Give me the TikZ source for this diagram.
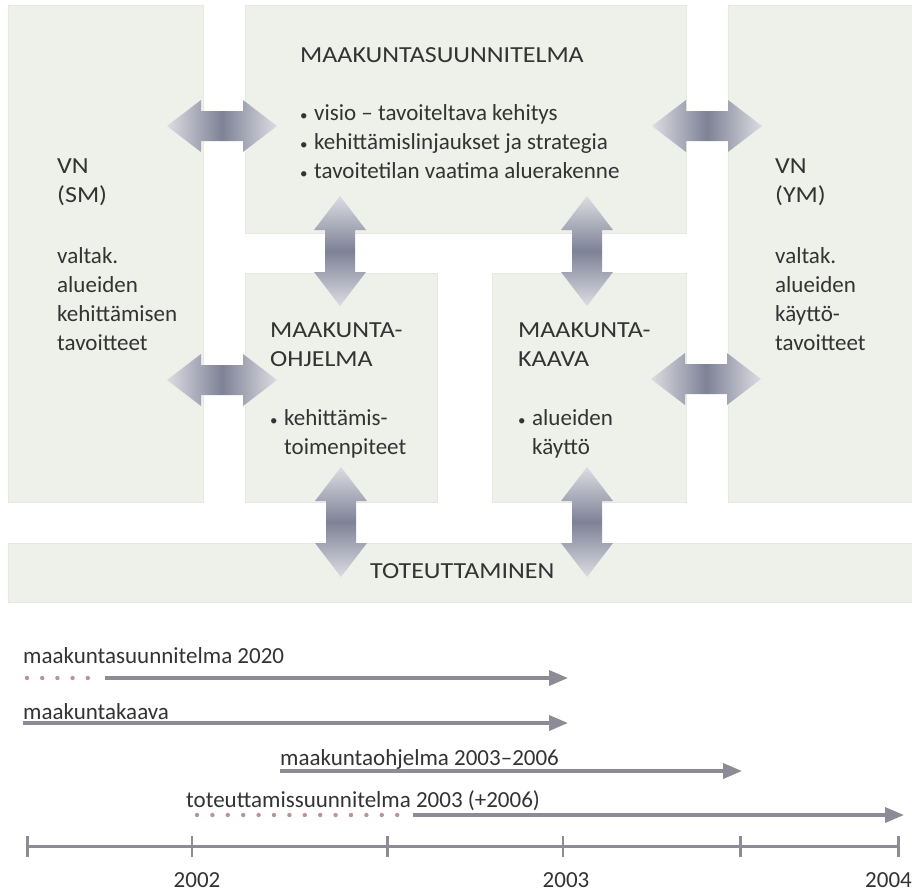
\documentclass[tikz,border=0pt]{standalone}
\usepackage{fontspec}
\setmainfont{Carlito}
\newfontfamily\capsf[FakeStretch=1.13]{Carlito}
\usetikzlibrary{arrows.meta}
\newcommand\mybul{\makebox[14pt][l]{\fontsize{15}{15}\selectfont •}}
\definecolor{boxbg}{HTML}{EEF0EA}
\definecolor{boxedge}{HTML}{E6E8E1}
\definecolor{txt}{HTML}{333333}
\definecolor{arlight}{HTML}{DCDCE2}
\definecolor{ardark}{HTML}{7E8296}
\definecolor{tlc}{HTML}{8F8B96}
\definecolor{dotc}{HTML}{B8988E}
\tikzset{
  box/.style={fill=boxbg, draw=boxedge, line width=0.8pt},
  lbl/.style={anchor=base west, inner sep=0pt, text=txt, font=\fontsize{23}{29}\selectfont},
  caplbl/.style={anchor=base west, inner sep=0pt, text=txt, font=\capsf\fontsize{23}{29}\selectfont},
  yearlbl/.style={anchor=base, inner sep=0pt, text=txt, font=\fontsize{23}{29}\selectfont},
  tlarrow/.style={draw=tlc, line width=3.5pt, -{Triangle[length=19pt,width=15pt]}},
  tldot/.style={fill=dotc},
  bigtick/.style={draw=tlc, line width=3pt},
  smalltick/.style={draw=tlc, line width=1.2pt},
  harr/.pic={\shade[left color=arlight, right color=arlight, middle color=ardark]
     (-55,0) -- (-21,-26) -- (-21,-15) -- (21,-15) -- (21,-26) -- (55,0)
     -- (21,26) -- (21,15) -- (-21,15) -- (-21,26) -- cycle;},
  varr/.pic={\shade[top color=arlight, bottom color=arlight, middle color=ardark]
     (0,-55) -- (-26,-21) -- (-15,-21) -- (-15,21) -- (-26,21) -- (0,55)
     -- (26,21) -- (15,21) -- (15,-21) -- (26,-21) -- cycle;},
}
\begin{document}
\begin{tikzpicture}[x=1pt,y=-1pt]
\useasboundingbox (0,0) rectangle (912,892);
\fill[white] (0,0) rectangle (912,892);
% boxes
\path[box] (8,5) rectangle (203,502);
\path[box] (245,5) rectangle (686,233);
\path[box] (728,5) rectangle (914,502);
\path[box] (245,273) rectangle (437,502);
\path[box] (492,273) rectangle (686,502);
\path[box] (8,543) rectangle (914,602);
% block arrows
\coordinate (a1) at (222,126);
\coordinate (a2) at (707,126);
\coordinate (a3) at (222,380);
\coordinate (a4) at (706,379);
\coordinate (v1) at (340,251);
\coordinate (v2) at (587,251);
\coordinate (v3) at (341,522);
\coordinate (v4) at (587,522);
\pic at (a1) {harr};
\pic at (a2) {harr};
\pic at (a3) {harr};
\pic at (a4) {harr};
\pic at (v1) {varr};
\pic at (v2) {varr};
\pic at (v3) {varr};
\pic at (v4) {varr};
% top box text
\node[caplbl] (ms) at (300,62) {MAAKUNTASUUNNITELMA};
\node[lbl] (ms1) at (300,120) {\mybul visio – tavoiteltava kehitys};
\node[lbl] (ms2) at (300,149) {\mybul kehittämislinjaukset ja strategia};
\node[lbl] (ms3) at (300,178) {\mybul tavoitetilan vaatima aluerakenne};
% left box
\node[caplbl] (l1) at (57,173) {VN};
\node[caplbl] (l2) at (57,202) {(SM)};
\node[lbl] (l3) at (57,263) {valtak.};
\node[lbl] (l4) at (57,292) {alueiden};
\node[lbl] (l5) at (57,321) {kehittämisen};
\node[lbl] (l6) at (57,350) {tavoitteet};
% right box
\node[caplbl] (r1) at (775,173) {VN};
\node[caplbl] (r2) at (775,202) {(YM)};
\node[lbl] (r3) at (775,263) {valtak.};
\node[lbl] (r4) at (775,292) {alueiden};
\node[lbl] (r5) at (775,321) {käyttö-};
\node[lbl] (r6) at (775,350) {tavoitteet};
% mid left
\node[caplbl] (o1) at (270,337) {MAAKUNTA-};
\node[caplbl] (o2) at (270,366) {OHJELMA};
\node[lbl] (o3) at (270,425) {\mybul kehittämis-};
\node[lbl] (o4) at (284,454) {toimenpiteet};
% mid right
\node[caplbl] (k1) at (518,337) {MAAKUNTA-};
\node[caplbl] (k2) at (518,366) {KAAVA};
\node[lbl] (k3) at (518,425) {\mybul alueiden};
\node[lbl] (k4) at (532,454) {käyttö};
% bottom
\node[caplbl] (tot) at (370,578) {TOTEUTTAMINEN};
% timeline
\node[lbl] (tl1) at (23,663) {maakuntasuunnitelma 2020};
\node[lbl] (tl2) at (23,719) {maakuntakaava};
\node[lbl] (tl3) at (280,765) {maakuntaohjelma 2003–2006};
\node[lbl] (tl4) at (186,807) {toteuttamissuunnitelma 2003 (+2006)};
\coordinate (s1) at (105,678); \coordinate (e1) at (568,678);
\coordinate (s2) at (23,723);  \coordinate (e2) at (568,723);
\coordinate (s3) at (280,771); \coordinate (e3) at (742,771);
\coordinate (s4) at (413,815); \coordinate (e4) at (904,815);
\draw[tlarrow] (s1) -- (e1);
\draw[tlarrow] (s2) -- (e2);
\draw[tlarrow] (s3) -- (e3);
\draw[tlarrow] (s4) -- (e4);
\foreach \i in {0,...,4} \fill[tldot] (27+15.2*\i,678) circle (2.2);
\foreach \i in {0,...,13} \fill[tldot] (197+15.4*\i,815) circle (2.2);
% axis
\coordinate (ax0) at (27,846); \coordinate (ax1) at (898,846);
\draw[draw=tlc, line width=3pt] (ax0) -- (ax1);
\foreach \x in {27,387,740,898} \draw[bigtick] (\x,836) -- (\x,857);
\foreach \x in {192,563} \draw[smalltick] (\x,836) -- (\x,857);
\node[yearlbl] (y2) at (197,887) {2002};
\node[yearlbl] (y3) at (566,887) {2003};
\node[yearlbl, anchor=base east] (y4) at (912,887) {2004};
\end{tikzpicture}
\end{document}
